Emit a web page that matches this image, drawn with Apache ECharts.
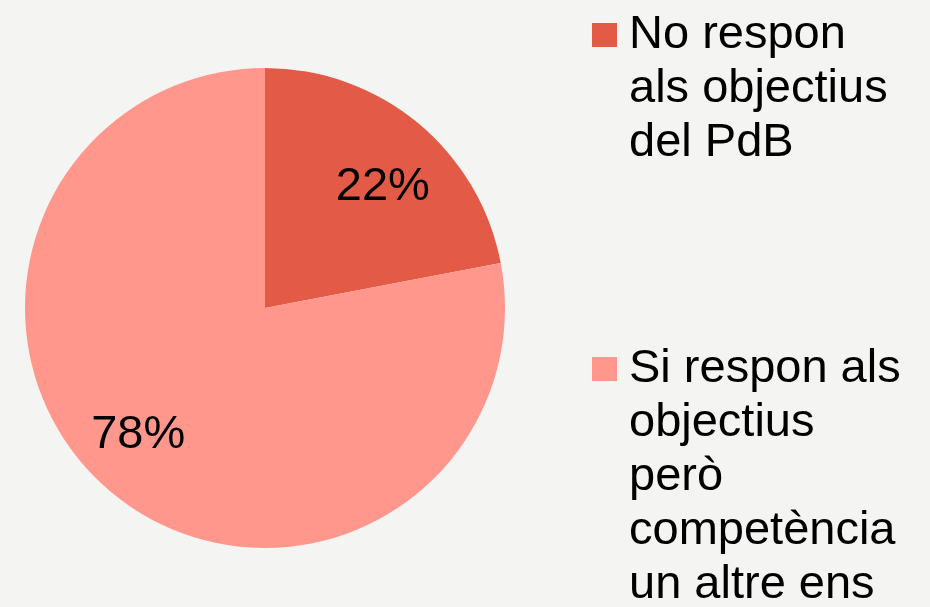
<!DOCTYPE html>
<html>
<head>
<meta charset="utf-8">
<script src="https://cdn.jsdelivr.net/npm/echarts@6/dist/echarts.min.js"></script>
<style>
  html, body { margin: 0; padding: 0; background: #f4f4f2; }
  #chart { width: 930px; height: 607px; }
</style>
</head>
<body>
<div id="chart"></div>
<script>
// dades del gràfic
const categories = [
  'No respon\nals objectius\ndel PdB',
  'Si respon als\nobjectius\nperò\ncompetència\nun altre ens'
];
const values = [22, 78];
const colors = ['#e35a47', '#ff978d'];

const FONT = 'Liberation Sans, Arial, sans-serif';
const FS = 47;
const LH = 54;

let chart = echarts.init(document.getElementById('chart'));

let pieData = categories.map((name, i) => ({
  name: name,
  value: values[i],
  itemStyle: { color: colors[i] }
}));

// una llegenda per element; el text es centra amb el quadrat,
// així que s'afegeixen línies buides a dalt perquè la primera línia hi quedi alineada
function legendFor(i, iconTop) {
  let lines = categories[i].split('\n').length;
  let total = lines * 2 - 1;
  return {
    data: [categories[i]],
    orient: 'vertical',
    left: 592,
    top: iconTop + 12 - total * LH / 2,
    padding: 0,
    itemWidth: 25,
    itemHeight: 24,
    icon: 'rect',
    selectedMode: false,
    formatter: name => '\n'.repeat(lines - 1) + name,
    textStyle: {
      fontFamily: FONT,
      fontSize: FS,
      lineHeight: LH,
      color: '#000',
      padding: [0, 0, 0, 7]
    }
  };
}

// ajust fi de la posició de les etiquetes
const labelOffsets = [[5, 15], [-14, -9]];

chart.setOption({
  backgroundColor: '#f4f4f2',
  animation: false,
  legend: [legendFor(0, 23), legendFor(1, 357)],
  series: [{
    type: 'pie',
    center: [265, 308],
    radius: [0, 240],
    startAngle: 90,
    clockwise: true,
    label: { show: false },
    labelLine: { show: false },
    emphasis: { disabled: true },
    data: pieData
  }, {
    // sèrie transparent només per situar les etiquetes de percentatge
    type: 'pie',
    center: [265, 308],
    radius: [108, 240],
    startAngle: 90,
    clockwise: true,
    silent: true,
    legendHoverLink: false,
    itemStyle: { color: 'rgba(0,0,0,0)' },
    label: {
      show: true,
      position: 'inside',
      formatter: '{c}%',
      fontFamily: FONT,
      fontSize: FS,
      color: '#000'
    },
    labelLine: { show: false },
    emphasis: { disabled: true },
    data: values.map((v, i) => ({
      name: 'l' + i,
      value: v,
      label: { offset: labelOffsets[i] }
    }))
  }]
});
</script>
</body>
</html>
